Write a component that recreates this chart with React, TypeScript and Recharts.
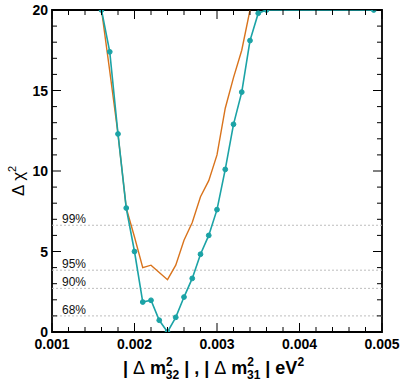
import React from 'react';
import { LineChart, Line, XAxis, YAxis, ReferenceLine, ReferenceArea } from 'recharts';

// |Δm²| grid (eV²) and Δχ² values
const tealMass = [0.0016, 0.0017, 0.0018, 0.0019, 0.002, 0.0021, 0.0022, 0.0023, 0.0024, 0.0025, 0.0026, 0.0027, 0.0028, 0.0029, 0.003, 0.0031, 0.0032, 0.0033, 0.0034, 0.0035, 0.0036, 0.0049];
const tealChi2 = [20, 17.4, 12.3, 7.7, 5.0, 1.86, 1.97, 0.73, 0, 0.91, 2.17, 3.33, 4.83, 6.0, 7.6, 10.1, 12.9, 14.9, 18.1, 19.8, 20, 20];

const orangeMass = [0.0016, 0.0017, 0.0018, 0.0019, 0.002, 0.0021, 0.0022, 0.0023, 0.0024, 0.0025, 0.0026, 0.0027, 0.0028, 0.0029, 0.003, 0.0031, 0.0032, 0.0033, 0.0034];
const orangeChi2 = [20, 16.2, 12.3, 7.7, 5.9, 4.0, 4.15, 3.7, 3.25, 4.15, 5.7, 6.8, 8.4, 9.4, 11.0, 13.9, 15.8, 17.5, 20];

const clLevels = [6.63, 3.84, 2.71, 1.0];
const clLabels = ['99%', '95%', '90%', '68%'];

const xTicks = [0.001, 0.0012, 0.0014, 0.0016, 0.0018, 0.002, 0.0022, 0.0024, 0.0026, 0.0028, 0.003, 0.0032, 0.0034, 0.0036, 0.0038, 0.004, 0.0042, 0.0044, 0.0046, 0.0048, 0.005];
const xLabels = ['0.001', '0.002', '0.003', '0.004', '0.005'];
const yTicks = [0, 1, 2, 3, 4, 5, 6, 7, 8, 9, 10, 11, 12, 13, 14, 15, 16, 17, 18, 19, 20];
const yLabels = ['0', '5', '10', '15', '20'];

const tealData = tealMass.map((x, i) => ({ x, chi2: tealChi2[i] }));
const orangeData = orangeMass.map((x, i) => ({ x, chi2: orangeChi2[i] }));

const TEAL = '#1ba3a6';
const ORANGE = '#d9731c';
const FONT = '"Liberation Sans", Arial, Helvetica, sans-serif';
const PLOT_W = 330;
const PLOT_H = 322;

const XTick = (props: any) => {
  const { x, y, payload } = props;
  const label = payload.value.toFixed(3);
  const major = xLabels.includes(label) && Math.abs(payload.value * 1000 - Math.round(payload.value * 1000)) < 1e-6;
  const len = major ? 9 : 5;
  return (
    <g>
      <line x1={x} y1={y} x2={x} y2={y - len} stroke="#000" strokeWidth={1} />
      <line x1={x} y1={y - PLOT_H} x2={x} y2={y - PLOT_H + len} stroke="#000" strokeWidth={1} />
      {major && (
        <text x={x} y={y + 17} textAnchor="middle" fontFamily={FONT} fontWeight="bold" fontSize={14} fill="#000">
          {label}
        </text>
      )}
    </g>
  );
};

const YTick = (props: any) => {
  const { x, y, payload } = props;
  const label = String(payload.value);
  const major = yLabels.includes(label);
  const len = major ? 9 : 5;
  return (
    <g>
      <line x1={x} y1={y} x2={x + len} y2={y} stroke="#000" strokeWidth={1} />
      <line x1={x + PLOT_W} y1={y} x2={x + PLOT_W - len} y2={y} stroke="#000" strokeWidth={1} />
      {major && (
        <text x={x - 4} y={y + 5} textAnchor="end" fontFamily={FONT} fontWeight="bold" fontSize={14} fill="#000">
          {label}
        </text>
      )}
    </g>
  );
};

const XTitle = () => (
  <text x={123} y={374} fontFamily={FONT} fontWeight="bold" fontSize={18} fill="#000">
    <tspan>{'| '}</tspan>
    <tspan fontWeight="normal">Δ</tspan>
    <tspan>{' m'}</tspan>
    <tspan fontSize={12} dy={-8}>2</tspan>
    <tspan fontSize={12} dx={-7} dy={13}>32</tspan>
    <tspan dy={-5}>{' | , | '}</tspan>
    <tspan fontWeight="normal">Δ</tspan>
    <tspan>{' m'}</tspan>
    <tspan fontSize={12} dy={-8}>2</tspan>
    <tspan fontSize={12} dx={-7} dy={13}>31</tspan>
    <tspan dy={-5}>{' |  eV'}</tspan>
    <tspan fontSize={12} dy={-8}>2</tspan>
  </text>
);

const YTitle = () => (
  <text x={0} y={0} transform="translate(24,196) rotate(-90)" fontFamily={FONT} fontSize={17} fill="#000">
    <tspan>{'Δ χ'}</tspan>
    <tspan fontSize={11} dy={-8}>2</tspan>
  </text>
);

export default function App() {
  return (
    <div style={{ position: 'absolute', left: 0, top: 0, width: 403, height: 381, background: '#fff' }}>
      <LineChart width={403} height={381} margin={{ top: 10, right: 21, bottom: 0, left: 0 }}>
        <XAxis
          dataKey="x"
          type="number"
          domain={[0.001, 0.005]}
          ticks={xTicks}
          interval={0}
          allowDataOverflow
          axisLine={false}
          tickLine={false}
          tickSize={0}
          tickMargin={0}
          height={49}
          tick={<XTick />}
          label={{ content: () => <XTitle /> }}
        />
        <YAxis
          type="number"
          domain={[0, 20]}
          ticks={yTicks}
          interval={0}
          allowDataOverflow
          axisLine={false}
          tickLine={false}
          tickSize={0}
          tickMargin={0}
          width={52}
          tick={<YTick />}
          label={{ content: () => <YTitle /> }}
        />
        {clLevels.map((lvl, i) => (
          <ReferenceLine
            key={clLabels[i]}
            y={lvl}
            stroke="#bdbdbd"
            strokeDasharray="2 2"
            strokeWidth={1}
            label={{
              content: (p: any) => (
                <text x={p.viewBox.x + 10} y={p.viewBox.y - 2} fontFamily={FONT} fontSize={12} fill="#111">
                  {clLabels[i]}
                </text>
              ),
            }}
          />
        ))}
        <Line
          data={orangeData}
          dataKey="chi2"
          type="linear"
          stroke={ORANGE}
          strokeWidth={1.4}
          dot={false}
          isAnimationActive={false}
        />
        <Line
          data={tealData}
          dataKey="chi2"
          type="linear"
          stroke={TEAL}
          strokeWidth={1.6}
          dot={{ r: 2.4, fill: TEAL, stroke: TEAL, strokeWidth: 1 }}
          isAnimationActive={false}
        />
        <ReferenceArea x1={0.001} x2={0.005} y1={0} y2={20} fill="none" stroke="#000" strokeWidth={1.8} />
      </LineChart>
    </div>
  );
}
